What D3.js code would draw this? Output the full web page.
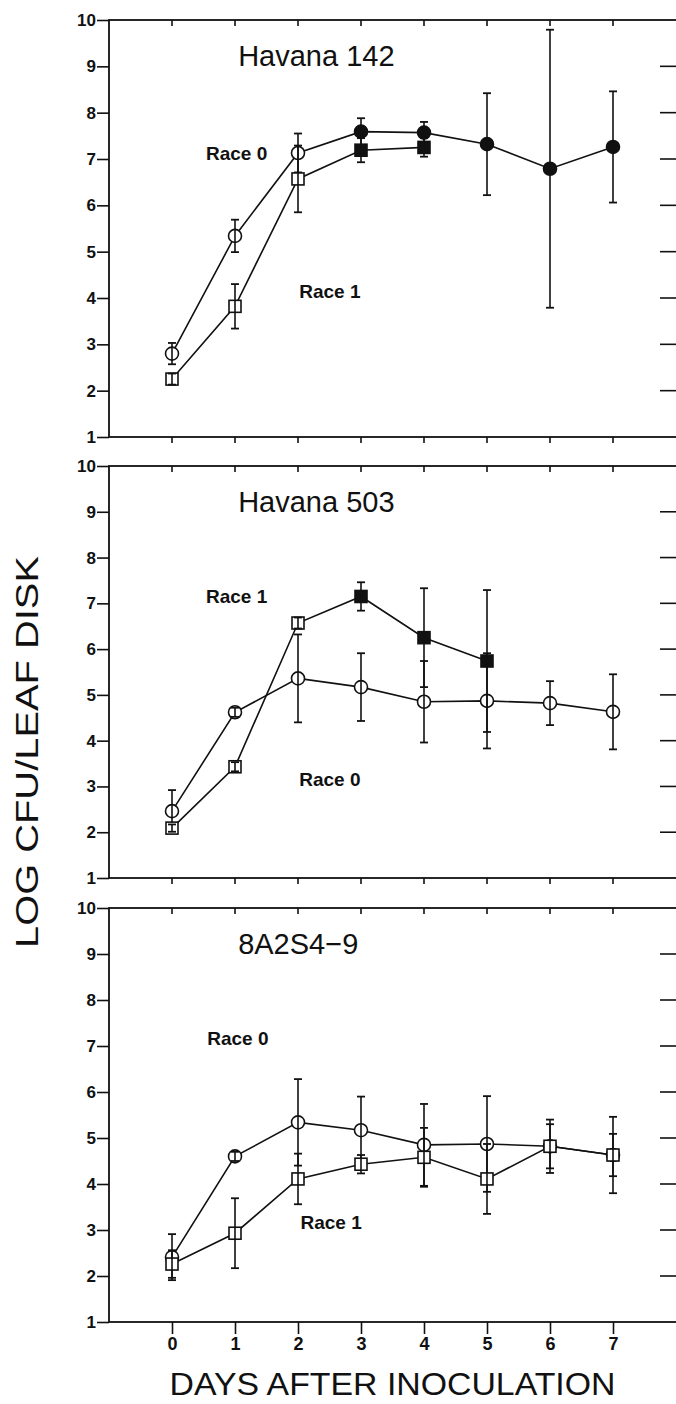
<!DOCTYPE html>
<html>
<head>
<meta charset="utf-8">
<script src="https://cdn.jsdelivr.net/npm/d3@7"></script>
<style>
  body { margin: 0; background: #fff; }
  svg { display: block; }
</style>
</head>
<body>
<div id="chart"></div>
<script>
// dados
const days = [0, 1, 2, 3, 4, 5, 6, 7];
const yTicks = [1, 2, 3, 4, 5, 6, 7, 8, 9, 10];
const panelTitles = ["Havana 142", "Havana 503", "8A2S4\u22129"];

// Havana 142
const h142Race0 = [2.80, 5.34, 7.13, 7.59, 7.57, 7.32, 6.79, 7.26];
const h142Race0Err = [0.23, 0.35, 0.42, 0.29, 0.23, 1.10, 3.00, 1.20];
const h142Race0Solid = [0, 0, 0, 1, 1, 1, 1, 1];
const h142Race1 = [2.25, 3.82, 6.57, 7.19, 7.25];
const h142Race1Err = [0.12, 0.48, 0.72, 0.26, 0.20];
const h142Race1Solid = [0, 0, 0, 1, 1];

// Havana 503
const h503Race0 = [2.46, 4.62, 5.36, 5.17, 4.85, 4.87, 4.82, 4.63];
const h503Race0Err = [0.46, 0.10, 0.96, 0.74, 0.89, 1.04, 0.48, 0.82];
const h503Race0Solid = [0, 0, 0, 0, 0, 0, 0, 0];
const h503Race1 = [2.09, 3.43, 6.57, 7.15, 6.25, 5.74];
const h503Race1Err = [0.08, 0.10, 0.12, 0.31, 1.08, 1.55];
const h503Race1Solid = [0, 0, 0, 1, 1, 1];

// 8A2S4-9
const a8Race0 = [2.41, 4.60, 5.34, 5.17, 4.85, 4.87, 4.82, 4.63];
const a8Race0Err = [0.50, 0.10, 0.94, 0.73, 0.89, 1.04, 0.48, 0.46];
const a8Race0Solid = [0, 0, 0, 0, 0, 0, 0, 0];
const a8Race1 = [2.26, 2.93, 4.11, 4.43, 4.58, 4.11, 4.82, 4.63];
const a8Race1Err = [0.30, 0.76, 0.55, 0.20, 0.64, 0.76, 0.58, 0.83];
const a8Race1Solid = [0, 0, 0, 0, 0, 0, 0, 0];

const width = 676;
const height = 1404;
const ink = "#111";
const fonte = "'Liberation Sans', Arial, sans-serif";

// três painéis empilhados
const painelTop = [20, 466, 908];
const painelBottom = [437, 878, 1322];

const painéis = [
  {
    title: panelTitles[0],
    series: [
      { mean: h142Race0, err: h142Race0Err, solid: h142Race0Solid, shape: "circle" },
      { mean: h142Race1, err: h142Race1Err, solid: h142Race1Solid, shape: "square" }
    ],
    labels: [{ text: "Race 0", d: 0.54, v: 6.98 }, { text: "Race 1", d: 2.02, v: 4.0 }]
  },
  {
    title: panelTitles[1],
    series: [
      { mean: h503Race0, err: h503Race0Err, solid: h503Race0Solid, shape: "circle" },
      { mean: h503Race1, err: h503Race1Err, solid: h503Race1Solid, shape: "square" }
    ],
    labels: [{ text: "Race 1", d: 0.54, v: 7.0 }, { text: "Race 0", d: 2.02, v: 3.0 }]
  },
  {
    title: panelTitles[2],
    series: [
      { mean: a8Race0, err: a8Race0Err, solid: a8Race0Solid, shape: "circle" },
      { mean: a8Race1, err: a8Race1Err, solid: a8Race1Solid, shape: "square" }
    ],
    labels: [{ text: "Race 0", d: 0.56, v: 7.02 }, { text: "Race 1", d: 2.04, v: 3.02 }]
  }
];

const x = d3.scaleLinear().domain([-1, 8]).range([109, 676]);

const svg = d3.select("#chart")
  .append("svg")
  .attr("width", width)
  .attr("height", height)
  .style("font-family", fonte);

painéis.forEach((p, i) => {
  const y = d3.scaleLinear().domain([1, 10]).range([painelBottom[i], painelTop[i]]);
  const g = svg.append("g");

  // moldura
  g.append("rect")
    .attr("x", x(-1))
    .attr("y", y(10))
    .attr("width", x(8) - x(-1) + 3)
    .attr("height", y(1) - y(10))
    .attr("fill", "none")
    .attr("stroke", ink)
    .attr("stroke-width", 1.8);

  // eixo Y à esquerda
  const eixoY = g.append("g")
    .attr("transform", `translate(${x(-1)},0)`)
    .call(d3.axisLeft(y).tickValues(yTicks).tickSize(12).tickPadding(1));
  eixoY.select(".domain").remove();
  eixoY.selectAll("line").attr("stroke", ink).attr("stroke-width", 1.6);
  eixoY.selectAll("text")
    .attr("fill", ink)
    .style("font-size", "17px")
    .style("font-weight", "bold")
    .style("font-family", fonte);

  // tracinhos à direita (para dentro)
  g.selectAll(".tickDir")
    .data(yTicks.filter(t => t > 1 && t < 10))
    .enter()
    .append("line")
    .attr("x1", x(8) - 16)
    .attr("x2", x(8))
    .attr("y1", d => y(d))
    .attr("y2", d => y(d))
    .attr("stroke", ink)
    .attr("stroke-width", 1.6);

  // tracinhos no topo (para dentro)
  g.selectAll(".tickTopo")
    .data(days)
    .enter()
    .append("line")
    .attr("x1", d => x(d))
    .attr("x2", d => x(d))
    .attr("y1", y(10))
    .attr("y2", y(10) + 6)
    .attr("stroke", ink)
    .attr("stroke-width", 1.6);

  // eixo X embaixo
  if (i < 2) {
    g.selectAll(".tickBase")
      .data(days)
      .enter()
      .append("line")
      .attr("x1", d => x(d))
      .attr("x2", d => x(d))
      .attr("y1", y(1))
      .attr("y2", y(1) + 6)
      .attr("stroke", ink)
      .attr("stroke-width", 1.6);
  } else {
    const eixoX = g.append("g")
      .attr("transform", `translate(0,${y(1)})`)
      .call(d3.axisBottom(x).tickValues(days).tickSize(12).tickPadding(3).tickFormat(d3.format("d")));
    eixoX.select(".domain").remove();
    eixoX.selectAll("line").attr("stroke", ink).attr("stroke-width", 1.6);
    eixoX.selectAll("text")
      .attr("fill", ink)
      .style("font-size", "18px")
      .style("font-weight", "bold")
      .style("font-family", fonte);
  }

  // título do painel
  g.append("text")
    .attr("x", x(1.05))
    .attr("y", y(9.0))
    .attr("fill", ink)
    .style("font-size", "29px")
    .text(p.title);

  // rótulos Race
  g.selectAll(".rotulo")
    .data(p.labels)
    .enter()
    .append("text")
    .attr("x", d => x(d.d))
    .attr("y", d => y(d.v))
    .attr("fill", ink)
    .style("font-size", "19px")
    .style("font-weight", "bold")
    .text(d => d.text);

  const linha = d3.line()
    .x((d, j) => x(days[j]))
    .y(d => y(d));

  p.series.forEach(s => {
    const pts = s.mean.map((m, j) => ({ day: days[j], m, e: s.err[j], solid: s.solid[j] }));

    g.append("path")
      .datum(s.mean)
      .attr("fill", "none")
      .attr("stroke", ink)
      .attr("stroke-width", 1.6)
      .attr("d", linha);

    // marcadores
    if (s.shape === "circle") {
      g.selectAll(null)
        .data(pts)
        .enter()
        .append("circle")
        .attr("cx", d => x(d.day))
        .attr("cy", d => y(d.m))
        .attr("r", 6.5)
        .attr("fill", d => d.solid ? ink : "#fff")
        .attr("stroke", ink)
        .attr("stroke-width", 1.6);
    } else {
      g.selectAll(null)
        .data(pts)
        .enter()
        .append("rect")
        .attr("x", d => x(d.day) - 6)
        .attr("y", d => y(d.m) - 6)
        .attr("width", 12)
        .attr("height", 12)
        .attr("fill", d => d.solid ? ink : "#fff")
        .attr("stroke", ink)
        .attr("stroke-width", 1.6);
    }

    // barras de erro por cima
    const barras = g.selectAll(null).data(pts).enter().append("g");
    barras.append("line")
      .attr("x1", d => x(d.day)).attr("x2", d => x(d.day))
      .attr("y1", d => y(d.m - d.e)).attr("y2", d => y(d.m + d.e))
      .attr("stroke", ink).attr("stroke-width", 1.6);
    barras.append("line")
      .attr("x1", d => x(d.day) - 4).attr("x2", d => x(d.day) + 4)
      .attr("y1", d => y(d.m + d.e)).attr("y2", d => y(d.m + d.e))
      .attr("stroke", ink).attr("stroke-width", 1.8);
    barras.append("line")
      .attr("x1", d => x(d.day) - 4).attr("x2", d => x(d.day) + 4)
      .attr("y1", d => y(d.m - d.e)).attr("y2", d => y(d.m - d.e))
      .attr("stroke", ink).attr("stroke-width", 1.8);
  });
});

// títulos dos eixos
svg.append("text")
  .attr("x", (x(0) + x(7)) / 2)
  .attr("y", 1395)
  .attr("text-anchor", "middle")
  .attr("fill", ink)
  .attr("textLength", 446)
  .attr("lengthAdjust", "spacingAndGlyphs")
  .style("font-size", "32px")
  .text("DAYS AFTER INOCULATION");

svg.append("text")
  .attr("transform", `translate(38,752) rotate(-90)`)
  .attr("text-anchor", "middle")
  .attr("fill", ink)
  .attr("textLength", 392)
  .attr("lengthAdjust", "spacingAndGlyphs")
  .style("font-size", "31px")
  .text("LOG CFU/LEAF DISK");
</script>
</body>
</html>
